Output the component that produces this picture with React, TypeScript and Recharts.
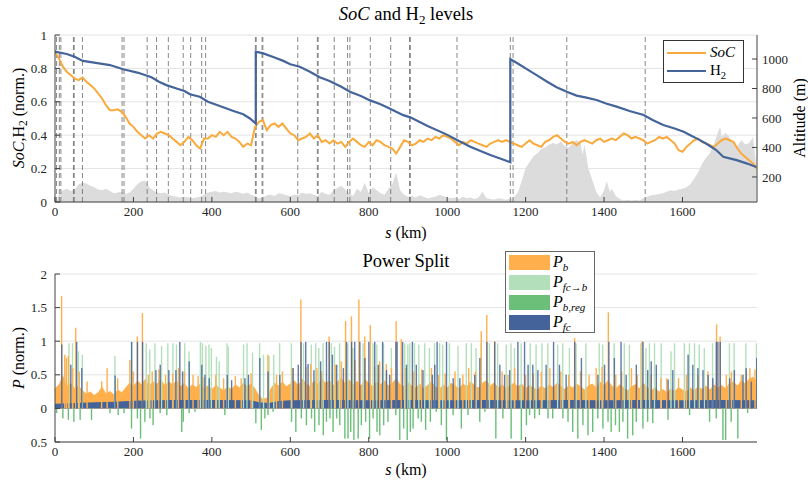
import React from 'react';
import {
  ComposedChart,
  Line,
  Area,
  Bar,
  XAxis,
  YAxis,
  CartesianGrid,
  ReferenceLine,
  Legend,
} from 'recharts';

const FONT = "'Liberation Serif', 'DejaVu Serif', serif";
const AXIS = '#404040';
const GRID = '#e4e4e4';
const TEXT = '#262626';

const COLORS = {
  soc: '#f9aa3c',
  h2: '#44649a',
  alt: '#dcdcdc',
  stop: '#6a6a6a',
  pb: '#ffb04d',
  pfcb: '#b3e0ba',
  preg: '#6bbf78',
  pfc: '#44639a',
};

const kmTicks = [0, 200, 400, 600, 800, 1000, 1200, 1400, 1600];
const levelTicks = [0, 0.2, 0.4, 0.6, 0.8, 1];
const altTicks = [200, 400, 600, 800, 1000];
const powerTicks = [-0.5, 0, 0.5, 1, 1.5, 2];

// stops along the route (dashed lines), km
const stopKm = [4, 11, 15, 47, 49, 70, 171, 176, 235, 259, 289, 327, 346, 374, 384, 511, 513, 528, 530, 619, 669, 671, 712, 746, 752, 804, 856, 904, 906, 1025, 1161, 1168, 1305, 1505];

// H2 tank level [km, norm.]
const h2Level = [
  [0, 0.9], [30, 0.886], [50, 0.87], [71, 0.845], [100, 0.835], [140, 0.82], [174, 0.795], [210, 0.775],
  [246, 0.747], [265, 0.72], [284, 0.7], [310, 0.68], [330, 0.665], [344, 0.645], [369, 0.63], [390, 0.6],
  [420, 0.575], [455, 0.545], [480, 0.525], [497, 0.5], [512, 0.47], [512, 0.9], [531, 0.89], [560, 0.865],
  [582, 0.845], [600, 0.825], [624, 0.81], [650, 0.78], [675, 0.747], [700, 0.725], [730, 0.69], [752, 0.66],
  [780, 0.635], [802, 0.61], [830, 0.585], [853, 0.56], [870, 0.54], [888, 0.52], [906, 0.507], [950, 0.455],
  [998, 0.405], [1030, 0.365], [1059, 0.331], [1085, 0.305], [1110, 0.281], [1135, 0.26], [1161, 0.238],
  [1161, 0.855], [1177, 0.834], [1200, 0.8], [1228, 0.76], [1255, 0.72], [1279, 0.687], [1305, 0.66],
  [1330, 0.637], [1355, 0.625], [1381, 0.611], [1405, 0.59], [1432, 0.571], [1465, 0.545], [1501, 0.521],
  [1525, 0.49], [1551, 0.461], [1580, 0.44], [1603, 0.421], [1620, 0.4], [1636, 0.381], [1660, 0.35],
  [1686, 0.311], [1704, 0.271], [1738, 0.251], [1765, 0.23], [1788, 0.21],
];

// battery SoC, one value every 10 km from 0
const SOC_STEP = 10;
const socLevel = [
  0.9, 0.86, 0.81, 0.78, 0.76, 0.74, 0.73, 0.745, 0.72, 0.7, 0.68, 0.65, 0.62, 0.58, 0.55, 0.55, 0.555, 0.54, 0.51, 0.47,
  0.45, 0.42, 0.4, 0.38, 0.4, 0.38, 0.41, 0.42, 0.41, 0.4, 0.38, 0.36, 0.34, 0.36, 0.39, 0.37, 0.34, 0.32, 0.38, 0.38,
  0.4, 0.39, 0.42, 0.4, 0.42, 0.39, 0.38, 0.36, 0.33, 0.35, 0.34, 0.45, 0.48, 0.49, 0.43, 0.46, 0.47, 0.45, 0.47, 0.44,
  0.41, 0.4, 0.37, 0.38, 0.39, 0.41, 0.38, 0.4, 0.36, 0.37, 0.35, 0.37, 0.35, 0.36, 0.33, 0.36, 0.38, 0.36, 0.34, 0.33,
  0.36, 0.34, 0.37, 0.36, 0.34, 0.33, 0.32, 0.29, 0.33, 0.37, 0.36, 0.34, 0.35, 0.37, 0.36, 0.38, 0.37, 0.39, 0.38, 0.4,
  0.39, 0.38, 0.36, 0.34, 0.36, 0.35, 0.37, 0.36, 0.35, 0.34, 0.33, 0.35, 0.36, 0.37, 0.36, 0.37, 0.36, 0.35, 0.34, 0.33,
  0.35, 0.37, 0.35, 0.34, 0.33, 0.36, 0.37, 0.39, 0.4, 0.38, 0.36, 0.35, 0.36, 0.34, 0.36, 0.37, 0.36, 0.35, 0.37, 0.38,
  0.36, 0.37, 0.38, 0.37, 0.39, 0.41, 0.4, 0.38, 0.39, 0.38, 0.37, 0.35, 0.36, 0.37, 0.39, 0.38, 0.39, 0.37, 0.35, 0.31,
  0.3, 0.33, 0.35, 0.37, 0.38, 0.36, 0.35, 0.34, 0.33, 0.35, 0.37, 0.38, 0.37, 0.36, 0.32, 0.29, 0.27, 0.25, 0.23, 0.2,
];

// route altitude [km, m]
const altitude = [
  [0, 40], [5, 35], [10, 80], [20, 110], [30, 120], [40, 105], [50, 115], [60, 150], [70, 160], [80, 155], [90, 140],
  [100, 130], [110, 115], [120, 110], [130, 120], [140, 105], [150, 90], [160, 95], [170, 100], [180, 85], [190, 95],
  [200, 120], [210, 150], [220, 170], [230, 175], [240, 130], [250, 110], [260, 95], [270, 90], [280, 95], [290, 80],
  [300, 70], [310, 65], [320, 60], [330, 65], [340, 60], [350, 55], [360, 60], [370, 65], [380, 80], [390, 95],
  [400, 100], [410, 105], [420, 95], [430, 100], [440, 95], [450, 90], [460, 100], [470, 95], [480, 85], [490, 95],
  [500, 80], [510, 70], [520, 55], [530, 60], [540, 75], [550, 80], [560, 70], [570, 90], [580, 85], [590, 75],
  [600, 70], [610, 80], [620, 75], [630, 95], [640, 85], [650, 90], [660, 80], [670, 70], [680, 100], [690, 85],
  [700, 80], [710, 110], [720, 125], [730, 140], [740, 115], [750, 90], [760, 70], [770, 120], [780, 100], [790, 160],
  [800, 90], [810, 130], [820, 110], [830, 90], [840, 80], [850, 120], [860, 150], [870, 230], [880, 110], [890, 80],
  [900, 65], [910, 70], [920, 60], [930, 75], [940, 65], [950, 55], [960, 60], [970, 65], [980, 80], [990, 70],
  [1000, 60], [1010, 55], [1020, 60], [1030, 50], [1040, 65], [1050, 55], [1060, 60], [1070, 50], [1080, 60],
  [1090, 100], [1100, 55], [1110, 50], [1120, 45], [1130, 55], [1140, 50], [1150, 45], [1160, 50], [1170, 60],
  [1180, 95], [1190, 170], [1200, 260], [1210, 300], [1220, 340], [1230, 360], [1240, 390], [1250, 400], [1260, 420],
  [1270, 430], [1280, 420], [1290, 440], [1300, 410], [1310, 400], [1320, 430], [1330, 450], [1340, 430], [1345, 350],
  [1350, 420], [1360, 260], [1370, 180], [1380, 100], [1390, 60], [1400, 110], [1407, 170], [1415, 100], [1420, 120],
  [1430, 70], [1440, 50], [1450, 40], [1460, 45], [1470, 40], [1480, 45], [1490, 40], [1500, 55], [1510, 65],
  [1520, 75], [1530, 80], [1540, 85], [1550, 90], [1560, 100], [1570, 110], [1580, 105], [1590, 115], [1600, 120],
  [1610, 130], [1620, 150], [1630, 190], [1640, 230], [1650, 290], [1660, 330], [1670, 360], [1680, 420], [1690, 500],
  [1696, 540], [1700, 470], [1710, 500], [1720, 470], [1730, 430], [1740, 410], [1750, 450], [1760, 420], [1770, 430],
  [1780, 470], [1788, 280],
];

// battery power level between peaks, one value every 10 km from 0
const PB_STEP = 10;
const pbBody = [
  0.3, 0.36, 0.5, 0.33, 0.38, 0.3, 0.34, 0.27, 0.22, 0.25, 0.2, 0.24, 0.33, 0.22, 0.26, 0.21, 0.28, 0.24, 0.31, 0.38,
  0.33, 0.42, 0.36, 0.44, 0.34, 0.4, 0.37, 0.43, 0.35, 0.4, 0.36, 0.42, 0.33, 0.38, 0.3, 0.36, 0.32, 0.37, 0.3, 0.34,
  0.29, 0.35, 0.31, 0.27, 0.33, 0.29, 0.36, 0.31, 0.38, 0.33, 0.37, 0.3, 0.2, 0.14, 0.16, 0.3, 0.38, 0.34, 0.4, 0.33,
  0.37, 0.42, 0.35, 0.44, 0.38, 0.33, 0.41, 0.36, 0.45, 0.38, 0.42, 0.35, 0.4, 0.46, 0.37, 0.43, 0.36, 0.41, 0.34, 0.44,
  0.38, 0.33, 0.4, 0.36, 0.42, 0.34, 0.38, 0.45, 0.36, 0.33, 0.39, 0.34, 0.31, 0.37, 0.3, 0.35, 0.4, 0.33, 0.29, 0.36,
  0.31, 0.38, 0.34, 0.3, 0.37, 0.33, 0.4, 0.35, 0.31, 0.38, 0.42, 0.34, 0.39, 0.31, 0.36, 0.3, 0.34, 0.38, 0.33, 0.37,
  0.3, 0.35, 0.31, 0.28, 0.34, 0.3, 0.36, 0.32, 0.38, 0.34, 0.29, 0.35, 0.31, 0.37, 0.33, 0.28, 0.34, 0.37, 0.31, 0.4,
  0.35, 0.42, 0.34, 0.3, 0.36, 0.31, 0.27, 0.33, 0.36, 0.3, 0.38, 0.32, 0.27, 0.31, 0.25, 0.29, 0.24, 0.3, 0.26, 0.32,
  0.28, 0.25, 0.31, 0.27, 0.33, 0.29, 0.34, 0.28, 0.36, 0.31, 0.35, 0.3, 0.38, 0.4, 0.34, 0.42, 0.37, 0.44, 0.47, 0.4,
];

// fuel-cell base power [km, norm.]
const pfcBody = [
  [0, 0.07], [50, 0.08], [100, 0.09], [150, 0.1], [200, 0.115], [250, 0.12], [300, 0.125], [400, 0.125], [500, 0.12],
  [520, 0.09], [545, 0.08], [570, 0.11], [600, 0.12], [700, 0.125], [800, 0.12], [900, 0.125], [1000, 0.12],
  [1100, 0.125], [1200, 0.12], [1300, 0.125], [1400, 0.12], [1500, 0.125], [1600, 0.12], [1700, 0.125], [1790, 0.12],
];

// peaks [km, norm.]
const pbPeaks = [
  [17, 1.67], [25, 0.8], [29, 0.75], [34, 0.78], [45, 0.6], [53, 1.2], [62, 0.55], [82, 0.4], [119, 0.4], [133, 0.6],
  [160, 0.45], [191, 0.72], [200, 0.55], [210, 1.07], [223, 1.42], [238, 0.5], [248, 0.55], [265, 0.58], [282, 0.5],
  [300, 0.52], [315, 0.6], [330, 0.55], [352, 0.5], [365, 0.48], [380, 0.46], [410, 0.5], [430, 0.45], [460, 0.48],
  [475, 0.45], [500, 0.52], [543, 0.8], [565, 0.5], [580, 0.55], [605, 0.6], [627, 1.62], [640, 0.62], [652, 0.66],
  [668, 0.6], [680, 0.55], [699, 1.07], [715, 0.65], [730, 0.7], [741, 1.3], [756, 1.37], [765, 0.72], [775, 1.62],
  [790, 1.07], [804, 1.24], [815, 0.62], [828, 0.7], [845, 0.66], [858, 0.6], [870, 1.3], [883, 1.03], [895, 0.6],
  [915, 0.55], [935, 0.58], [960, 0.6], [978, 0.5], [995, 0.52], [1020, 0.55], [1040, 0.5], [1055, 0.6], [1072, 0.55],
  [1087, 1.15], [1101, 1.39], [1121, 1.0], [1140, 0.55], [1155, 0.5], [1172, 0.6], [1200, 0.5], [1220, 0.52],
  [1240, 0.55], [1262, 0.6], [1290, 0.55], [1310, 0.5], [1325, 1.05], [1340, 0.55], [1362, 0.5], [1380, 0.6],
  [1395, 0.62], [1411, 1.43], [1430, 0.5], [1445, 0.55], [1470, 0.6], [1485, 0.5], [1497, 1.0], [1520, 0.5],
  [1545, 0.45], [1560, 0.45], [1590, 0.45], [1610, 0.5], [1640, 0.5], [1665, 0.55], [1687, 1.25], [1696, 1.07],
  [1712, 0.5], [1725, 0.55], [1750, 0.5], [1763, 0.55], [1772, 0.6], [1785, 0.58],
];

const pfcbPeaks = [
  [36, 0.97], [45, 0.97], [60, 0.85], [70, 0.8], [153, 0.78], [196, 0.99], [233, 0.97], [242, 0.88], [255, 0.97],
  [272, 0.93], [288, 0.97], [301, 0.97], [310, 0.95], [331, 0.97], [342, 0.85], [371, 0.99], [376, 0.97], [385, 0.93],
  [393, 0.95], [399, 0.9], [412, 0.77], [419, 0.7], [439, 0.97], [442, 0.92], [481, 0.95], [490, 0.97], [504, 0.83],
  [522, 0.97], [532, 0.8], [546, 0.78], [558, 0.8], [573, 0.97], [603, 0.97], [634, 0.97], [654, 0.95], [665, 0.97],
  [673, 0.9], [684, 0.97], [705, 0.97], [713, 0.92], [726, 0.97], [747, 0.97], [760, 0.9], [786, 0.97], [811, 0.97],
  [821, 0.95], [838, 0.97], [858, 0.9], [892, 0.97], [900, 0.95], [905, 0.97], [917, 0.97], [928, 0.95], [943, 0.97],
  [955, 0.9], [968, 0.97], [981, 0.97], [989, 0.95], [1006, 0.97], [1028, 0.93], [1049, 0.97], [1062, 0.97],
  [1074, 0.9], [1087, 0.97], [1108, 0.97], [1129, 0.97], [1151, 0.95], [1163, 0.97], [1172, 0.9], [1189, 0.97],
  [1212, 0.97], [1227, 0.95], [1242, 0.97], [1257, 0.97], [1282, 0.95], [1295, 0.97], [1312, 0.9], [1329, 0.97],
  [1354, 0.97], [1388, 0.97], [1397, 0.95], [1426, 0.97], [1452, 0.97], [1465, 0.95], [1494, 0.97], [1507, 0.9],
  [1516, 0.97], [1529, 0.97], [1546, 0.97], [1571, 0.85], [1580, 0.97], [1605, 0.97], [1618, 0.97], [1631, 0.97],
  [1643, 0.95], [1656, 0.9], [1677, 0.97], [1720, 0.97], [1732, 0.97], [1762, 0.97], [1789, 0.97],
];

const pregPeaks = [
  [4, -0.07], [20, -0.15], [34, -0.17], [48, -0.2], [64, -0.17], [93, -0.17], [140, -0.07], [161, -0.1], [176, -0.07],
  [195, -0.3], [210, -0.15], [218, -0.45], [229, -0.2], [242, -0.15], [250, -0.25], [268, -0.07], [285, -0.1],
  [323, -0.35], [327, -0.2], [342, -0.07], [357, -0.05], [433, -0.1], [512, -0.22], [526, -0.32], [535, -0.15],
  [543, -0.1], [556, -0.05], [603, -0.2], [614, -0.35], [628, -0.15], [641, -0.25], [654, -0.15], [662, -0.35],
  [673, -0.25], [684, -0.4], [692, -0.2], [701, -0.15], [709, -0.35], [718, -0.15], [726, -0.25], [739, -0.45],
  [747, -0.45], [754, -0.35], [762, -0.47], [773, -0.45], [781, -0.25], [792, -0.2], [802, -0.45], [811, -0.15],
  [821, -0.35], [828, -0.4], [838, -0.25], [849, -0.2], [869, -0.1], [879, -0.47], [889, -0.3], [898, -0.47],
  [906, -0.35], [913, -0.3], [926, -0.15], [934, -0.2], [945, -0.32], [957, -0.2], [972, -0.05], [985, -0.25],
  [998, -0.47], [1015, -0.1], [1036, -0.3], [1053, -0.1], [1083, -0.2], [1096, -0.05], [1124, -0.45], [1142, -0.15],
  [1163, -0.45], [1189, -0.47], [1202, -0.25], [1210, -0.1], [1223, -0.15], [1235, -0.1], [1257, -0.15],
  [1269, -0.15], [1295, -0.15], [1308, -0.2], [1320, -0.35], [1333, -0.45], [1346, -0.25], [1359, -0.4],
  [1371, -0.35], [1384, -0.15], [1397, -0.3], [1410, -0.2], [1418, -0.35], [1429, -0.25], [1439, -0.35],
  [1448, -0.2], [1460, -0.45], [1473, -0.4], [1482, -0.2], [1499, -0.3], [1511, -0.2], [1524, -0.22], [1563, -0.17],
  [1618, -0.1], [1669, -0.2], [1686, -0.15], [1703, -0.47], [1710, -0.47], [1724, -0.2], [1741, -0.45], [1766, -0.07],
];

const pfcPeaks = [
  [17, 0.95], [40, 0.65], [55, 0.99], [68, 0.6], [153, 0.49], [195, 0.99], [210, 0.99], [223, 0.99], [257, 0.57],
  [268, 0.65], [290, 0.57], [308, 0.57], [318, 0.99], [325, 0.55], [342, 0.7], [374, 0.65], [382, 0.5], [393, 0.45],
  [439, 0.5], [450, 0.42], [484, 0.45], [493, 0.5], [522, 0.75], [543, 0.55], [573, 0.5], [607, 0.6], [620, 0.65],
  [627, 0.99], [639, 0.99], [645, 0.66], [660, 0.57], [677, 0.7], [692, 0.99], [699, 0.99], [707, 0.8], [718, 0.65],
  [735, 0.6], [743, 0.99], [756, 0.99], [764, 0.99], [777, 0.99], [790, 0.75], [800, 0.99], [815, 0.99], [824, 0.65],
  [835, 0.99], [845, 0.57], [853, 0.5], [869, 0.99], [872, 0.99], [886, 0.99], [896, 0.65], [911, 0.99], [921, 0.65],
  [938, 0.57], [962, 0.5], [968, 0.65], [974, 0.99], [998, 0.99], [1015, 0.45], [1032, 0.45], [1070, 0.5],
  [1083, 0.75], [1101, 0.99], [1121, 0.99], [1134, 0.65], [1146, 0.5], [1159, 0.57], [1180, 0.99], [1197, 0.99],
  [1206, 0.65], [1218, 0.65], [1231, 0.57], [1252, 0.65], [1271, 0.99], [1286, 0.65], [1303, 0.5], [1325, 0.99],
  [1342, 0.75], [1384, 0.5], [1401, 0.65], [1412, 0.99], [1426, 0.75], [1443, 0.99], [1456, 0.5], [1482, 0.65],
  [1499, 0.99], [1511, 0.57], [1520, 0.7], [1533, 0.65], [1563, 0.43], [1575, 0.57], [1614, 0.8], [1626, 0.65],
  [1639, 0.6], [1652, 0.57], [1665, 0.5], [1677, 0.45], [1686, 0.99], [1690, 0.99], [1696, 0.99], [1720, 0.45],
  [1732, 0.57], [1754, 0.5], [1762, 0.6], [1775, 0.4], [1789, 0.75],
];

// ---- tables for the library ----
const h2Data = h2Level.map(([km, v]) => ({ km, h2: v }));
const socData = socLevel.map((v, i) => ({ km: i * SOC_STEP, soc: v }));
const altData = altitude.map(([km, m]) => ({ km, alt: m }));
const pbBodyData = pbBody.map((v, i) => ({ km: i * PB_STEP, body: v }));
const pfcBodyData = pfcBody.map(([km, v]) => ({ km, body: v }));

function buildPeakRows() {
  const rows = new Map<number, Record<string, number>>();
  const add = (list: number[][], key: string) => {
    list.forEach(([km, v]) => {
      const row = rows.get(km) || { km };
      row[key] = v;
      rows.set(km, row);
    });
  };
  add(pbPeaks, 'pb');
  add(pfcbPeaks, 'pfcb');
  add(pregPeaks, 'preg');
  add(pfcPeaks, 'pfc');
  return Array.from(rows.values()).sort((a, b) => a.km - b.km);
}
const peakRows = buildPeakRows();

// thin vertical spike centred on the bar slot the library computes
function spike(fill: string, opacity = 1) {
  return (props: any) => {
    const { x, y, width, height } = props;
    if (![x, y, width, height].every((n) => Number.isFinite(n)) || height === 0) return <g />;
    const top = Math.min(y, y + height);
    return (
      <rect x={x + width / 2 - 0.7} y={top} width={1.4} height={Math.abs(height)} fill={fill} fillOpacity={opacity} />
    );
  };
}

const tickStyle = { fill: TEXT, fontSize: 13, fontFamily: FONT };
const LABEL_SIZE = 16;
const TITLE_SIZE = 18.5;
const subStyle = { fontSize: 10.5, lineHeight: 0 };

const topLegendItems = [
  { key: 'soc', color: COLORS.soc, label: <i>SoC</i> },
  { key: 'h2', color: COLORS.h2, label: <span>H<sub style={subStyle}>2</sub></span> },
];

const bottomLegendItems = [
  { key: 'pb', color: COLORS.pb, sub: <i>b</i> },
  { key: 'pfcb', color: COLORS.pfcb, sub: <span><i>fc</i>→<i>b</i></span> },
  { key: 'preg', color: COLORS.preg, sub: <i>b,reg</i> },
  { key: 'pfc', color: COLORS.pfc, sub: <i>fc</i> },
];

function TopLegend() {
  return (
    <div style={{ position: 'relative', width: 81, height: 43, boxSizing: 'border-box', border: '1px solid #333', background: '#fff', fontFamily: FONT, fontSize: 15, color: '#000' }}>
      {topLegendItems.map((it, i) => (
        <div key={it.key} style={{ position: 'absolute', left: 3, top: 4 + i * 18, height: 15, display: 'flex', alignItems: 'center', lineHeight: '15px' }}>
          <span style={{ display: 'inline-block', width: 39, height: 2, background: it.color }} />
          <span style={{ marginLeft: 4 }}>{it.label}</span>
        </div>
      ))}
    </div>
  );
}

function BottomLegend() {
  return (
    <div style={{ position: 'relative', width: 90, height: 82, boxSizing: 'border-box', border: '1px solid #666', background: '#fff', fontFamily: FONT, fontSize: 16, color: '#000' }}>
      {bottomLegendItems.map((it, i) => (
        <div key={it.key} style={{ position: 'absolute', left: 3, top: 2 + i * 20, height: 16, display: 'flex', alignItems: 'center', lineHeight: '16px' }}>
          <span style={{ display: 'inline-block', width: 41, height: 15, background: it.color }} />
          <span style={{ marginLeft: 3, whiteSpace: 'nowrap' }}>
            <i>P</i>
            <sub style={{ fontSize: 11, lineHeight: 0 }}>{it.sub}</sub>
          </span>
        </div>
      ))}
    </div>
  );
}

function LevelsChart() {
  return (
    <ComposedChart width={808} height={245} margin={{ top: 35, right: 11, bottom: 13, left: 25 }}>
      <CartesianGrid yAxisId="left" vertical={false} stroke={GRID} />
      <XAxis
        dataKey="km"
        type="number"
        domain={[0, 1790]}
        ticks={kmTicks}
        allowDataOverflow
        height={30}
        tick={tickStyle}
        tickSize={-5}
        tickMargin={10}
        axisLine={{ stroke: AXIS }}
        tickLine={{ stroke: AXIS }}
      />
      <YAxis
        yAxisId="left"
        type="number"
        domain={[0, 1]}
        ticks={levelTicks}
        width={30}
        tick={tickStyle}
        tickSize={-5}
        tickMargin={13}
        axisLine={{ stroke: AXIS }}
        tickLine={{ stroke: AXIS }}
      />
      <YAxis
        yAxisId="alt"
        orientation="right"
        type="number"
        domain={[30, 1163]}
        ticks={altTicks}
        allowDataOverflow
        width={40}
        tick={tickStyle}
        tickSize={-5}
        tickMargin={10}
        axisLine={{ stroke: AXIS }}
        tickLine={{ stroke: AXIS }}
      />
      <Area
        yAxisId="alt"
        data={altData}
        dataKey="alt"
        type="linear"
        stroke="none"
        fill={COLORS.alt}
        fillOpacity={1}
        isAnimationActive={false}
        legendType="none"
      />
      {stopKm.map((km, i) => (
        <ReferenceLine key={i} yAxisId="left" x={km} stroke={COLORS.stop} strokeWidth={0.8} strokeDasharray="5 3" />
      ))}
      <Line yAxisId="left" data={socData} dataKey="soc" type="linear" stroke={COLORS.soc} strokeWidth={2} dot={false} isAnimationActive={false} />
      <Line yAxisId="left" data={h2Data} dataKey="h2" type="linear" stroke={COLORS.h2} strokeWidth={2.2} dot={false} isAnimationActive={false} />
      <Legend
        layout="vertical"
        align="center"
        verticalAlign="middle"
        wrapperStyle={{ left: 663, top: 40, width: 81, height: 43 }}
        content={() => <TopLegend />}
      />
      <text x={406} y={20} textAnchor="middle" fontFamily={FONT} fontSize={TITLE_SIZE} fill="#000">
        <tspan fontStyle="italic">SoC</tspan>
        <tspan> and H</tspan>
        <tspan fontSize={13} dy={4}>2</tspan>
        <tspan dy={-4}> levels</tspan>
      </text>
      <text transform="translate(24,118) rotate(-90)" textAnchor="middle" fontFamily={FONT} fontSize={LABEL_SIZE} fill="#000">
        <tspan fontStyle="italic">SoC</tspan>
        <tspan>,H</tspan>
        <tspan fontSize={11.5} dy={3}>2</tspan>
        <tspan dy={-3}> (norm.)</tspan>
      </text>
      <text transform="translate(805,118) rotate(-90)" textAnchor="middle" fontFamily={FONT} fontSize={LABEL_SIZE} fill="#000">
        Altitude (m)
      </text>
      <text x={406} y={238} textAnchor="middle" fontFamily={FONT} fontSize={LABEL_SIZE} fill="#000">
        <tspan fontStyle="italic">s</tspan>
        <tspan> (km)</tspan>
      </text>
    </ComposedChart>
  );
}

function PowerChart() {
  return (
    <ComposedChart width={808} height={237} data={peakRows} margin={{ top: 29, right: 51, bottom: 10, left: 25 }}>
      <CartesianGrid vertical={false} stroke={GRID} />
      <XAxis
        dataKey="km"
        type="number"
        domain={[0, 1790]}
        ticks={kmTicks}
        allowDataOverflow
        height={30}
        tick={tickStyle}
        tickSize={-5}
        tickMargin={10}
        axisLine={{ stroke: AXIS }}
        tickLine={{ stroke: AXIS }}
      />
      <YAxis
        type="number"
        domain={[-0.5, 2]}
        ticks={powerTicks}
        allowDataOverflow
        width={30}
        tick={tickStyle}
        tickSize={-5}
        tickMargin={13}
        tickFormatter={(v: number) => String(Math.abs(v))}
        axisLine={{ stroke: AXIS }}
        tickLine={{ stroke: AXIS }}
      />
      <Bar dataKey="pfcb" shape={spike(COLORS.pfcb)} isAnimationActive={false} />
      <Area data={pbBodyData} dataKey="body" type="linear" stroke="none" fill={COLORS.pb} fillOpacity={1} isAnimationActive={false} />
      <Bar dataKey="pb" shape={spike(COLORS.pb)} isAnimationActive={false} />
      <Bar dataKey="preg" shape={spike(COLORS.preg)} isAnimationActive={false} />
      <Area data={pfcBodyData} dataKey="body" type="linear" stroke="none" fill={COLORS.pfc} fillOpacity={1} isAnimationActive={false} />
      <Bar dataKey="pfc" shape={spike(COLORS.pfc, 0.85)} isAnimationActive={false} />
      <Legend
        layout="vertical"
        align="center"
        verticalAlign="middle"
        wrapperStyle={{ left: 505, top: 6, width: 90, height: 82 }}
        content={() => <BottomLegend />}
      />
      <text x={406} y={22} textAnchor="middle" fontFamily={FONT} fontSize={TITLE_SIZE} fill="#000">
        Power Split
      </text>
      <text transform="translate(24,113) rotate(-90)" textAnchor="middle" fontFamily={FONT} fontSize={LABEL_SIZE} fill="#000">
        <tspan fontStyle="italic">P</tspan>
        <tspan> (norm.)</tspan>
      </text>
      <text x={406} y={230} textAnchor="middle" fontFamily={FONT} fontSize={LABEL_SIZE} fill="#000">
        <tspan fontStyle="italic">s</tspan>
        <tspan> (km)</tspan>
      </text>
    </ComposedChart>
  );
}

export default function App() {
  return (
    <div style={{ position: 'absolute', left: 0, top: 0, width: 808, height: 482, background: '#fff', fontFamily: FONT }}>
      <LevelsChart />
      <PowerChart />
    </div>
  );
}
